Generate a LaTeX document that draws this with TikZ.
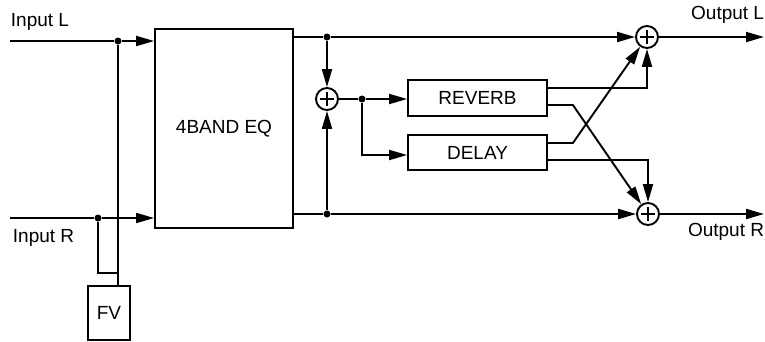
\documentclass[tikz,border=0pt]{standalone}
\usepackage{fontspec}
\setmainfont{Liberation Sans}
\usetikzlibrary{arrows.meta}
\begin{document}
\begin{tikzpicture}[x=1pt,y=-1pt, line width=1.9pt,
  box/.style={draw, line width=1.8pt, inner sep=0pt, font=\fontsize{19}{22}\selectfont},
  sum/.style={draw, circle, minimum size=22pt, inner sep=0pt, line width=1.9pt,
    path picture={
      \draw[line width=2.2pt] ([xshift=-7pt]path picture bounding box.center) -- ([xshift=7pt]path picture bounding box.center);
      \draw[line width=2.2pt] ([yshift=-7pt]path picture bounding box.center) -- ([yshift=7pt]path picture bounding box.center);}},
  arr/.style={-{Triangle[length=18pt,width=10pt]}},
  dot/.style={circle, fill, inner sep=0pt, minimum size=7pt},
  lbl/.style={font=\fontsize{19}{22}\selectfont, inner sep=0pt}]
\useasboundingbox (0,0) rectangle (765,341);

% blocks
\node[box, minimum width=138pt, minimum height=199pt] (eq) at (224,128.5) {4BAND EQ};
\node[box, minimum width=139pt, minimum height=36pt] (rev) at (477.5,98) {REVERB};
\node[box, minimum width=139pt, minimum height=35pt] (del) at (477.5,152.5) {DELAY};
\node[box, minimum width=42pt, minimum height=54pt] (fv) at (109,313) {FV};

% summing points
\node[sum] (sm) at (327,99) {};
\node[sum] (sl) at (647,37) {};
\node[sum] (sr) at (648,214) {};

% junctions
\node[dot] (dL) at (118,41) {};
\node[dot] (dR) at (98,218) {};
\node[dot] (dT) at (327,37) {};
\node[dot] (dB) at (327,214) {};
\node[dot] (dM) at (362,99) {};

\coordinate (inL) at (10,41);
\coordinate (inR) at (10,218);
\coordinate (outL) at (764,37);
\coordinate (outR) at (764,214);
\coordinate (fvj) at (118,273);

% labels
\node[lbl, anchor=west] (tL) at (10,22) {Input L};
\node[lbl, anchor=west] (tR) at (12,238) {Input R};
\node[lbl, anchor=east] (oL) at (765,15) {Output L};
\node[lbl, anchor=east] (oR) at (765,232) {Output R};

% inputs
\draw (inL) -- (dL);
\draw[arr] (dL) -- (eq.west |- dL);
\draw (inR) -- (dR);
\draw[arr] (dR) -- (eq.west |- dR);
\draw (dL) -- (fv.north -| dL);
\draw (dR) |- (fvj);

% EQ outputs
\draw (eq.east |- dT) -- (dT);
\draw[arr] (dT) -- (sl);
\draw[arr] (dT) -- (sm);
\draw (eq.east |- dB) -- (dB);
\draw[arr] (dB) -- (sr);
\draw[arr] (dB) -- (sm);

% to effects
\draw (sm) -- (dM);
\draw[arr] (dM) -- (rev.west |- dM);
\draw[arr] (dM) |- ([yshift=-2.5pt]del.west);

% effect outputs
\draw[arr] ([yshift=10pt]rev.east) -| (sl);
\draw[arr] ([yshift=-7pt]rev.east) -- ++(25,0) -- (sr);
\draw[arr] ([yshift=9.5pt]del.east) -- ++(25,0) -- (sl);
\draw[arr] ([yshift=-7.5pt]del.east) -| (sr);

% outputs
\draw[arr] (sl) -- (outL);
\draw[arr] (sr) -- (outR);
\end{tikzpicture}
\end{document}
